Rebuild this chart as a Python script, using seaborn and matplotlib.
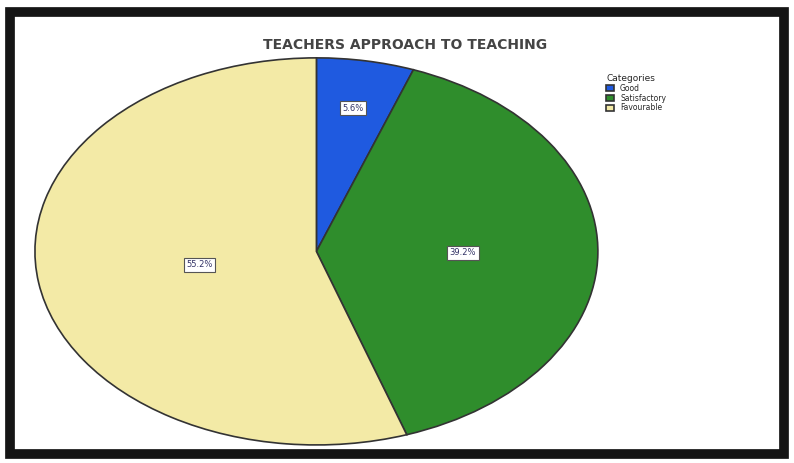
import matplotlib
matplotlib.use("Agg")
import matplotlib.pyplot as plt
import matplotlib.patches as mpatches
import seaborn as sns

# Data
categories = ["Good", "Satisfactory", "Favourable"]
percentages = [5.6, 39.2, 55.2]
colors = ["#1f5ae0", "#2f8d2c", "#f3eaa6"]
label_radius = [0.75, 0.52, 0.42]   # how far from the centre each value box sits

sns.set_theme(style="white")
plt.rcParams['font.family'] = ['DejaVu Sans']

fig = plt.figure(figsize=(7.94, 4.63), dpi=100)
fig.patch.set_facecolor("white")

# dark frame around the chart (screen border)
fig.patches.append(mpatches.Rectangle((0.012, 0.02), 0.976, 0.955, transform=fig.transFigure,
                                      fill=False, edgecolor="#151515", linewidth=7))

ax = fig.add_axes([0.044, 0.039, 0.709, 0.836])
wedges, texts, autotexts = ax.pie(
    percentages, colors=colors, startangle=90, counterclock=False,
    autopct=lambda p: f"{p:.1f}%", pctdistance=1.0,
    wedgeprops=dict(edgecolor="#333333", linewidth=1.2),
    textprops=dict(fontsize=6, color="#333366"))
for t, r in zip(autotexts, label_radius):
    x, y = t.get_position()
    t.set_position((x * r, y * r))
    t.set_bbox(dict(boxstyle="square,pad=0.3", facecolor="white", edgecolor="#555555", linewidth=0.8))
ax.set_aspect("auto")
ax.set_xlim(-1.0, 1.0)
ax.set_ylim(-1.0, 1.0)

fig.text(0.51, 0.902, "TEACHERS APPROACH TO TEACHING", ha="center", va="center",
         fontsize=10, fontweight="bold", color="#444444")

fig.legend(wedges, categories, title="Categories", loc="upper left",
           bbox_to_anchor=(0.755, 0.855), frameon=False, fontsize=5.5,
           title_fontsize=6.5, handlelength=1.0, handleheight=0.8,
           labelspacing=0.1, alignment="left")

fig.savefig("out.png", dpi=100)
